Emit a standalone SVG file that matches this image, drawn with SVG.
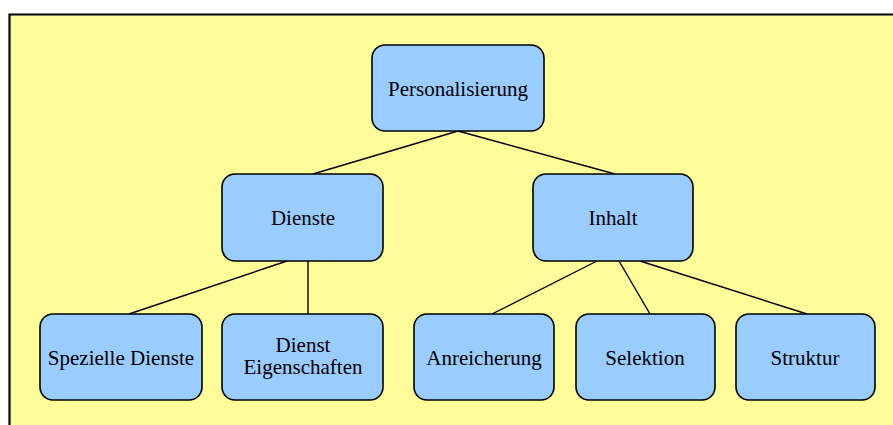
<svg xmlns="http://www.w3.org/2000/svg" width="893" height="425" viewBox="0 0 893 425">
  <style>
    .bg { fill: #FFFD99; }
    .frame { fill: none; stroke: #000; stroke-width: 2.2; }
    .box { fill: #99CCFF; stroke: #000; stroke-width: 1.6; }
    .link { stroke: #000; stroke-width: 1.4; fill: none; }
    .lbl { font-family: "Liberation Serif", "Times New Roman", serif; font-size: 21px; fill: #000; text-anchor: middle; }
  </style>
  <rect x="0" y="0" width="893" height="425" fill="#fff"/>
  <rect class="bg" x="9" y="14" width="884" height="411"/>
  <path class="frame" d="M9.5,425 V14.5 H893"/>

  <g id="connectors">
    <line class="link" x1="458" y1="131" x2="313" y2="174"/>
    <line class="link" x1="458" y1="131" x2="615" y2="174"/>
    <line class="link" x1="287" y1="261" x2="129" y2="314"/>
    <line class="link" x1="308" y1="261" x2="308" y2="314"/>
    <line class="link" x1="597" y1="261" x2="492" y2="314"/>
    <line class="link" x1="619" y1="261" x2="650" y2="314"/>
    <line class="link" x1="640" y1="261" x2="807" y2="314"/>
  </g>

  <g id="personalisierung">
    <rect class="box" x="372" y="45" width="172" height="86" rx="13"/>
    <text class="lbl" x="458" y="96">Personalisierung</text>
  </g>
  <g id="dienste">
    <rect class="box" x="222" y="174" width="161" height="87" rx="13"/>
    <text class="lbl" x="303" y="225">Dienste</text>
  </g>
  <g id="inhalt">
    <rect class="box" x="533" y="174" width="160" height="87" rx="13"/>
    <text class="lbl" x="613" y="225">Inhalt</text>
  </g>
  <g id="spezielle-dienste">
    <rect class="box" x="40" y="314" width="162" height="86" rx="13"/>
    <text class="lbl" x="121" y="365">Spezielle Dienste</text>
  </g>
  <g id="dienst-eigenschaften">
    <rect class="box" x="222" y="314" width="161" height="86" rx="13"/>
    <text class="lbl" x="303" y="352">Dienst</text>
    <text class="lbl" x="303" y="374">Eigenschaften</text>
  </g>
  <g id="anreicherung">
    <rect class="box" x="414" y="314" width="140" height="86" rx="13"/>
    <text class="lbl" x="484" y="365">Anreicherung</text>
  </g>
  <g id="selektion">
    <rect class="box" x="576" y="314" width="139" height="86" rx="13"/>
    <text class="lbl" x="645" y="365">Selektion</text>
  </g>
  <g id="struktur">
    <rect class="box" x="736" y="314" width="139" height="86" rx="13"/>
    <text class="lbl" x="805" y="365">Struktur</text>
  </g>
</svg>
